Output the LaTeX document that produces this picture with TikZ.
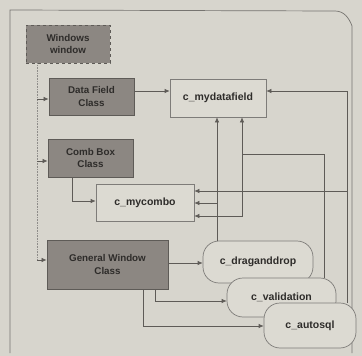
\documentclass[tikz,border=0pt]{standalone}
\usepackage{fontspec}
\setmainfont{Liberation Sans}
\usetikzlibrary{arrows.meta}
\definecolor{bg}{HTML}{D7D5CD}
\definecolor{darkbox}{HTML}{8C8782}
\definecolor{lightbox}{HTML}{DCDAD2}
\definecolor{edge}{HTML}{5E5B57}
\definecolor{txt}{HTML}{2E2C2A}
\tikzset{
  darkcls/.style={draw=edge, fill=darkbox, line width=0.8pt, minimum width=#1, inner sep=0pt, align=center, font=\fontsize{9.8}{12.5}\selectfont\bfseries, text=txt},
  lightcls/.style={draw=edge!80, fill=lightbox, line width=0.7pt, minimum width=#1, inner sep=0pt, align=center, font=\fontsize{10.5}{12}\selectfont\bfseries, text=txt},
  pill/.style={draw=edge!80, fill=lightbox, line width=0.7pt, rounded corners=16pt, minimum width=#1, inner sep=0pt, align=center, font=\fontsize{10.5}{12}\selectfont\bfseries, text=txt},
  arr/.style={draw=edge, line width=0.7pt, -{Latex[length=5pt,width=4.5pt]}},
  dotline/.style={draw=edge!70, line width=0.6pt, densely dotted},
}
\begin{document}
\begin{tikzpicture}[x=1pt,y=-1pt]
\useasboundingbox[fill=bg] (0,0) rectangle (362,356);
\draw[edge!85, line width=0.7pt] (10,353) -- (10,10) -- (335,11) to[out=0,in=110] (352,26) -- (352,353);
% nodes
\node[darkcls=84pt, minimum height=38pt, dashed] (win) at (68,44) {Windows\\window};
\node[darkcls=85pt, minimum height=37pt] (dfc) at (91.5,96.5) {Data Field\\Class};
\node[darkcls=85pt, minimum height=38pt] (cbc) at (90.5,158) {Comb Box\\Class};
\node[darkcls=121pt, minimum height=49pt] (gwc) at (107.5,264.5) {General Window\\Class};
\node[lightcls=96pt, minimum height=38pt] (mydf) at (218,98) {c\_mydatafield};
\node[lightcls=98pt, minimum height=37pt] (mycombo) at (145,202.5) {c\_mycombo};
% connectors from windows window
\coordinate (t) at (37,0);
\draw[dotline] (win.south -| t) -- (37,259);
\draw[arr] (37,99) -- (dfc.west |- 0,99);
\draw[arr] (37,161) -- (cbc.west |- 0,161);
\draw[arr] (37,260) -- (gwc.west |- 0,260);
% class to instances
\draw[arr] (dfc.east |- 0,91) -- (mydf.west |- 0,91);
\draw[arr] (cbc.south -| 72,0) |- (mycombo.west |- 0,201);
% pills
\node[pill=110pt, minimum height=42pt] (dnd) at (258,262) {c\_draganddrop};
\node[pill=109pt, minimum height=39pt] (val) at (281.5,297.5) {c\_validation};
\node[pill=92pt, minimum height=45pt] (asql) at (310,325.5) {c\_autosql};
\draw[arr] (gwc.east |- 0,263) -- (dnd.west |- 0,263);
\draw[arr] (gwc.south -| 155,0) |- (val.west |- 0,301);
\draw[arr] (gwc.south -| 143,0) |- (asql.west |- 0,326);
% draganddrop up
\coordinate (j1) at (217,203);
\draw[arr] (dnd.north -| 217,0) -- (mydf.south -| 217,0);
\draw[arr] (j1) -- (mycombo.east |- j1);
% validation
\coordinate (j2) at (242,154);
\draw[arr] (val.north -| 324,0) |- (j2) -- (mydf.south -| j2);
\draw[arr] (j2) |- (mycombo.east |- 0,216);
% autosql
\coordinate (j3) at (347,191);
\draw[arr] (asql.north -| j3) |- (mydf.east |- 0,91);
\draw[arr] (j3) -- (mycombo.east |- j3);
\end{tikzpicture}
\end{document}
